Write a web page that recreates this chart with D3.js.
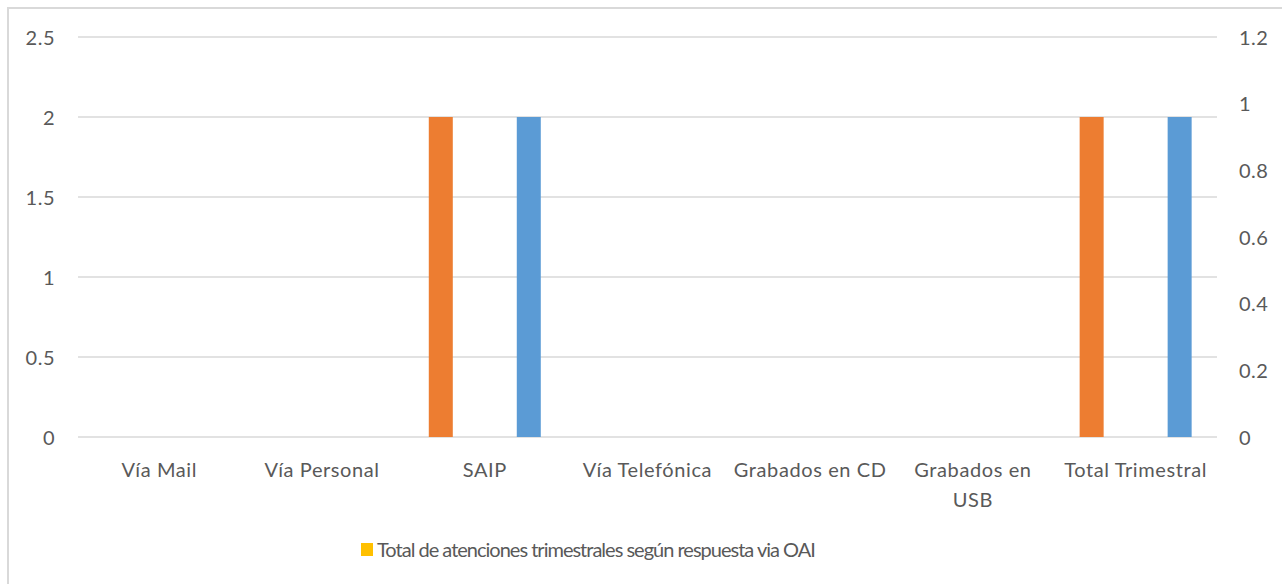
<!doctype html>
<html lang="es">
<head>
  <meta charset="utf-8">
  <title>Atenciones trimestrales</title>
  <script src="https://d3js.org/d3.v7.min.js"></script>
  <style>
    body { margin: 0; background: #fff; overflow: hidden; }
    svg text { font-family: Lato, "Open Sans", sans-serif; fill: #595959; }
  </style>
</head>
<body>
  <div id="chart"></div>
  <script>
    // Data ------------------------------------------------------------------------------------------------------------
    const categories = ["Vía Mail", "Vía Personal", "SAIP", "Vía Telefónica", "Grabados en CD", "Grabados en USB", "Total Trimestral"];
    const tickLabels = [["Vía Mail"], ["Vía Personal"], ["SAIP"], ["Vía Telefónica"], ["Grabados en CD"], ["Grabados en", "USB"], ["Total Trimestral"]];
    const orangeValues = [0, 0, 2, 0, 0, 0, 2];          // primary axis
    const totalOaiValues = [0, 0, 0, 0, 0, 0, 0];        // primary axis (legend series)
    const blueValues = [0, 0, 0.96, 0, 0, 0, 0.96];      // secondary axis
    const leftTicks = [0, 0.5, 1, 1.5, 2, 2.5];
    const rightTicks = [0, 0.2, 0.4, 0.6, 0.8, 1, 1.2];
    const legendLabel = "Total de atenciones trimestrales según respuesta via OAI";

    // Canvas ----------------------------------------------------------------------------------------------------------
    const width = 1282;
    const height = 584;
    const plot = { left: 78, right: 1217, top: 37, bottom: 437 };

    const svg = d3.select("#chart")
      .append("svg")
      .attr("width", width)
      .attr("height", height);

    // chart border runs off the right and bottom edges
    svg.append("rect")
      .attr("x", 8).attr("y", 8)
      .attr("width", 1300).attr("height", 600)
      .style("fill", "#fff")
      .style("stroke", "#d9d9d9")
      .style("stroke-width", 2);

    // Scales ----------------------------------------------------------------------------------------------------------
    const x = d3.scaleBand().domain(categories).range([plot.left, plot.right]);
    const yLeft = d3.scaleLinear().domain([0, 2.5]).range([plot.bottom, plot.top]);
    const yRight = d3.scaleLinear().domain([0, 1.2]).range([plot.bottom, plot.top]);
    const sub = d3.scaleBand().domain(["orange", "oai", "blue"]).range([-56, 56]).paddingInner(0.4545);

    // Grid lines ------------------------------------------------------------------------------------------------------
    svg.append("g")
      .selectAll("line")
      .data(leftTicks)
      .join("line")
      .attr("x1", plot.left).attr("x2", plot.right)
      .attr("y1", d => yLeft(d)).attr("y2", d => yLeft(d))
      .style("stroke", "#d9d9d9")
      .style("stroke-width", 1.5);

    // Bars ------------------------------------------------------------------------------------------------------------
    const series = [
      { key: "orange", values: orangeValues, scale: yLeft, color: "#ED7D31" },
      { key: "oai", values: totalOaiValues, scale: yLeft, color: "#FFC000" },
      { key: "blue", values: blueValues, scale: yRight, color: "#5B9BD5" }
    ];

    series.forEach(s => {
      svg.append("g")
        .selectAll("rect")
        .data(categories.map((c, i) => ({ c, v: s.values[i] })))
        .join("rect")
        .attr("x", d => x(d.c) + x.bandwidth() / 2 + sub(s.key))
        .attr("width", sub.bandwidth())
        .attr("y", d => s.scale(d.v))
        .attr("height", d => s.scale(0) - s.scale(d.v))
        .style("fill", s.color);
    });

    // Axes ------------------------------------------------------------------------------------------------------------
    const leftAxis = svg.append("g")
      .attr("transform", "translate(55,0)")
      .call(d3.axisLeft(yLeft).tickValues(leftTicks).tickFormat(d3.format("~g")).tickSize(0));

    const rightAxis = svg.append("g")
      .attr("transform", "translate(1239,0)")
      .call(d3.axisRight(yRight).tickValues(rightTicks).tickFormat(d3.format("~g")).tickSize(0));

    [leftAxis, rightAxis].forEach(a => {
      a.select(".domain").remove();
      a.selectAll("text")
        .attr("x", 0)
        .attr("dy", "0.36em")
        .style("font-size", "20px")
        .style("letter-spacing", "0.5px")
        .style("font-family", "Lato, 'Open Sans', sans-serif")
        .style("fill", "#595959");
    });

    const xLabels = svg.append("g")
      .selectAll("text")
      .data(categories)
      .join("text")
      .attr("text-anchor", "middle")
      .attr("x", d => x(d) + x.bandwidth() / 2)
      .attr("y", 477)
      .style("font-size", "20px")
      .style("letter-spacing", "0.6px");

    xLabels.selectAll("tspan")
      .data((d, i) => tickLabels[i])
      .join("tspan")
      .attr("x", function() { return d3.select(this.parentNode).attr("x"); })
      .attr("dy", (d, i) => i === 0 ? 0 : 30)
      .text(d => d);

    // Legend ----------------------------------------------------------------------------------------------------------
    svg.append("rect")
      .attr("x", 361).attr("y", 543)
      .attr("width", 12).attr("height", 13)
      .style("fill", "#FFC000");

    svg.append("text")
      .attr("x", 377)
      .attr("y", 557)
      .style("font-size", "20px")
      .style("letter-spacing", "-1px")
      .text(legendLabel);
  </script>
</body>
</html>
